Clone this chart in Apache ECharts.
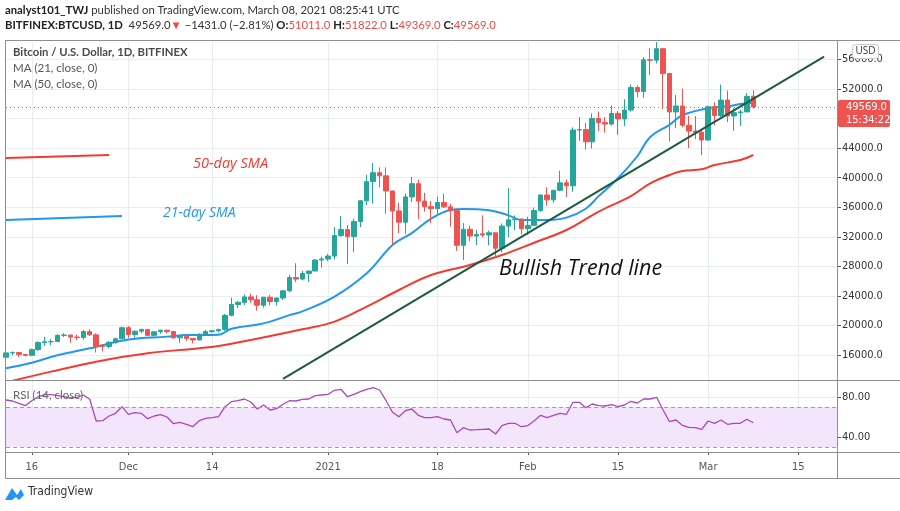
<!DOCTYPE html>
<html>
<head>
<meta charset="utf-8">
<script src="https://cdn.jsdelivr.net/npm/echarts@6.0.0/dist/echarts.min.js"></script>
<style>
html,body{margin:0;padding:0;background:#fff;}
#chart{width:900px;height:511px;}
</style>
</head>
<body>
<div id="chart"></div>
<script>
// ---------------- DATA ----------------
const firstDay = '2020-11-12';   // first candle
const lastAxisDay = '2021-03-21'; // right edge of the time axis

// daily candles [open, high, low, close], 2020-11-12 .. 2021-03-08
const ohlc = [
[15700,16350,15450,16290],[16290,16490,15980,16330],[16330,16340,15720,16080],[16080,16150,15790,15960],
[15960,16880,15880,16730],[16730,17860,16560,17680],[17680,18480,17220,17790],[17790,18150,17340,17820],
[17820,18800,17760,18660],[18660,18970,18440,18700],[18700,18740,17650,18430],[18430,18780,18030,18380],
[18380,19420,18060,19170],[19170,19490,18600,18730],[18730,18920,16340,17160],[17160,17470,16500,17140],
[17140,17890,16900,17720],[17720,18350,17540,18190],[18190,19850,18180,19700],
[19700,19920,18320,18780],[18780,19320,18340,19220],[19220,19570,18930,19440],[19440,19510,18590,18660],
[18660,19170,18510,19150],[19150,19420,18880,19360],[19360,19420,18900,19170],[19170,19280,18220,18330],
[18330,18640,17650,18550],[18550,18580,17920,18250],[18250,18290,17580,18040],[18040,18950,18020,18810],
[18810,19410,18720,19170],[19170,19350,19000,19280],[19280,19570,19050,19440],[19440,21560,19290,21370],
[21370,23770,21230,22840],[22840,23290,22350,23130],[23130,24170,22760,23860],[23860,24300,23060,23480],
[23480,24100,22000,22740],[22740,23850,22400,23820],[23820,24130,22700,23240],[23240,23780,22730,23720],
[23720,24780,23450,24690],[24690,26870,24500,26490],[26490,28420,25850,26280],[26280,27410,26100,27040],
[27040,27380,25880,27370],[27370,28990,27340,28860],[28860,29300,27850,28990],
[28990,29680,28700,29390],[29390,33300,28950,32170],[32170,34800,32000,32980],[32980,33600,28300,32050],
[32050,34470,29900,34060],[34060,36950,33300,36870],[36870,40400,36300,39460],[39460,42000,36500,40670],
[40670,41400,38700,40250],[40250,41400,35100,38200],[38200,38250,30900,35500],[35500,36600,32500,33980],
[33980,37850,32400,37400],[37400,40100,36700,39190],[39190,39750,34400,36830],[36830,37950,35400,36080],
[36080,36850,33850,35800],[35800,37450,34800,36650],[36650,37850,35900,36050],[36050,36450,33400,35550],
[35550,35600,30100,30850],[30850,33850,28850,33020],[33020,33500,31400,32100],[32100,32950,30900,32300],
[32400,34900,31950,32250],[32250,32850,30850,32550],[32550,32550,29250,30450],[30450,33800,29900,33450],
[33450,38600,31950,34300],[34300,34900,32900,34400],[34400,34450,32300,33100],
[33100,34700,32300,33550],[33550,35950,33450,35550],[35550,37700,35400,37650],[37650,38700,36200,37000],
[37000,38300,36600,38300],[38300,40950,38200,39300],[39300,39750,37400,38900],[38900,46800,38100,46450],
[46450,48200,45000,46500],[46500,47400,43800,44850],[44850,48700,43950,48000],[48000,48950,46300,47450],
[47450,48200,46100,47250],[47250,49750,47050,48700],[48700,49000,45800,47950],[47950,50600,47000,49150],
[49150,52600,48950,52200],[52200,52500,50900,51650],[51650,56300,50800,55950],[55950,57500,53900,55900],
[55900,58350,55450,57450],[57450,57550,49300,54100],[54100,54200,44900,48900],[48900,51200,46700,49700],
[49700,52050,46800,47100],[47100,48400,44000,46300],[46300,48350,45200,46150],[46150,46550,43050,45100],
[45100,49750,45000,49600],[49600,50200,47100,48400],[48400,52600,48150,50500],[50500,51800,47500,48350],
[48350,49400,46350,48800],[48800,49200,47000,48900],[48900,51450,48900,51000],[51011,51822,49369,49569]
];

const rsi = [77,76,73.7,71.3,76.3,80.3,82.3,82.3,81.3,80.3,79,79.7,82,77.7,
56,56.3,61,63.7,70.3,62.7,64.3,63.7,58.3,61,62.3,60,53.3,54.7,52.7,50.3,56.3,58.7,59.3,60.3,
70.3,75.3,76.3,78,75,68,72,67,68.3,72.7,76.3,76,77.7,78,81.3,82,82.7,86.7,87.7,80.3,
82.7,85.3,87.7,89.3,87,76.3,64.7,60.3,66.3,68,61.7,59.3,59.3,60.3,58,57,
44.3,49.3,47,47.3,47.7,48,43,51.3,53.7,53.7,50.3,51.3,56.3,61.7,59.3,61.7,63.7,62.7,74.7,74.7,
69.3,73,71.3,71,72.3,70.3,72,75.7,74,78,78,79.7,67,55.3,57,51.7,49.7,49.3,47.7,56,
53.7,57,52.7,53.7,53.7,57.7,54.3];

// moving averages at sample dates
const ma21 = [
['2020-11-12',14210],['2020-11-16',14950],['2020-11-20',15960],['2020-11-25',16910],['2020-12-01',18100],
['2020-12-07',18490],['2020-12-10',18700],['2020-12-15',18750],['2020-12-17',19550],['2020-12-22',20280],
['2020-12-26',21400],['2020-12-28',21900],['2021-01-02',23900],['2021-01-07',27060],['2021-01-11',30890],
['2021-01-14',32500],['2021-01-17',34450],['2021-01-20',35630],['2021-01-22',35760],['2021-01-26',35600],
['2021-01-29',34900],['2021-01-31',34280],['2021-02-04',34280],['2021-02-07',34590],['2021-02-10',35800],
['2021-02-12',37500],['2021-02-15',39920],['2021-02-18',42900],['2021-02-20',45500],['2021-02-23',47150],
['2021-02-25',48450],['2021-03-01',49390],['2021-03-04',49650],['2021-03-06',49970],['2021-03-08',50150]
];
const ma50 = [
['2020-11-12',12300],['2020-11-19',13750],['2020-11-26',15100],['2020-12-04',16240],['2020-12-12',16920],
['2020-12-15',17230],['2020-12-20',18040],['2020-12-28',19490],['2021-01-02',20520],['2021-01-07',22550],
['2021-01-12',24800],['2021-01-17',26830],['2021-01-23',28190],['2021-01-28',29540],['2021-02-02',31200],
['2021-02-07',32920],['2021-02-12',35400],['2021-02-17',37500],['2021-02-20',39240],['2021-02-23',40360],
['2021-02-25',40900],['2021-02-28',41130],['2021-03-02',41720],['2021-03-06',42390],['2021-03-08',43070]
];

// hand-drawn annotations (in chart coordinates)
const trendLine = [['2020-12-25',12770],['2021-03-19',56370]];
const sma50Marker = [['2020-11-12',42660],['2020-11-28',43070]];
const sma21Marker = [['2020-11-12',34280],['2020-11-30',34820]];

const xTickLabels = {'2020-11-16':'16','2020-12-01':'Dec','2020-12-14':'14','2021-01-01':'2021',
  '2021-01-18':'18','2021-02-01':'Feb','2021-02-15':'15','2021-03-01':'Mar','2021-03-15':'15'};
const priceTicks = [16000,20000,24000,28000,32000,36000,40000,44000,48000,52000,56000];
const rsiTicks = [40,80];
const rsiBand = [30,70];

// ---------------- BUILD ----------------
function fmt(d){return d.toISOString().slice(0,10);}
const categories = [];
for (let d = new Date(firstDay+'T00:00:00Z'); fmt(d) <= lastAxisDay; d.setUTCDate(d.getUTCDate()+1)) categories.push(fmt(d));
const candleDates = categories.slice(0, ohlc.length);
const candleData = ohlc.map(r => [r[0], r[3], r[2], r[1]]);
const rsiData = rsi.map((v,i) => [candleDates[i], v]);
const last = ohlc[ohlc.length-1], prev = ohlc[ohlc.length-2];
const chg = last[3]-prev[3], pct = chg/prev[3]*100;
const signed = (v,n) => (v<0?'\u2212':'') + Math.abs(v).toFixed(n);

const UP='#26a69a', DOWN='#ef5350';
const GRIDC='#e8edf2';
const tickFilter = (idx, v) => xTickLabels[v] !== undefined;
const narrow = "'Liberation Sans Narrow','DejaVu Sans Condensed',sans-serif";
const ui = "Lato,'Open Sans',sans-serif";
const hs = 11.3;

const chart = echarts.init(document.getElementById('chart'), null, {renderer:'canvas'});
const option = {
  animation:false,
  backgroundColor:'#ffffff',
  grid:[
    {left:6, top:42, width:831, height:338},
    {left:6, top:381, width:831, height:71}
  ],
  xAxis:[
    {type:'category', gridIndex:0, data:categories, boundaryGap:false,
     axisLine:{show:false}, axisTick:{show:false}, axisLabel:{show:false},
     splitLine:{show:true, interval:tickFilter, lineStyle:{color:GRIDC}}},
    {type:'category', gridIndex:1, data:categories, boundaryGap:false,
     axisLine:{show:false}, axisTick:{show:true, interval:tickFilter, length:3, lineStyle:{color:'#555'}},
     axisLabel:{interval:tickFilter, formatter:v=>xTickLabels[v]||'', color:'#555', fontSize:11, fontFamily:narrow, margin:10},
     splitLine:{show:true, interval:tickFilter, lineStyle:{color:GRIDC}}}
  ],
  yAxis:[
    {type:'value', gridIndex:0, position:'right', min:12620, max:58360, scale:true,
     axisLine:{show:false},
     axisTick:{show:true, customValues:priceTicks, length:4, lineStyle:{color:'#555'}},
     axisLabel:{customValues:priceTicks, formatter:v=>v.toFixed(1), color:'#333', fontSize:11, fontFamily:narrow, margin:5},
     splitLine:{show:true, lineStyle:{color:GRIDC}}},
    {type:'value', gridIndex:1, position:'right', min:25, max:96,
     axisLine:{show:false},
     axisTick:{show:true, customValues:rsiTicks, length:4, lineStyle:{color:'#555'}},
     axisLabel:{customValues:rsiTicks, formatter:v=>v.toFixed(2), color:'#333', fontSize:11, fontFamily:narrow, margin:5},
     splitLine:{show:true, lineStyle:{color:GRIDC}}}
  ],
  series:[
    {type:'line', xAxisIndex:0, yAxisIndex:0, data:ma50, smooth:0.4, showSymbol:false, z:3,
     lineStyle:{color:'#f23b2f', width:2}},
    {type:'line', xAxisIndex:0, yAxisIndex:0, data:ma21, smooth:0.4, showSymbol:false, z:3,
     lineStyle:{color:'#2196f3', width:2}},
    {type:'candlestick', xAxisIndex:0, yAxisIndex:0, data:candleData, barWidth:5, z:4,
     itemStyle:{color:UP, color0:DOWN, borderColor:UP, borderColor0:DOWN, borderWidth:1},
     markLine:{silent:true, symbol:['none','none'], label:{show:false},
       lineStyle:{color:DOWN, type:[1,3], width:1}, data:[{yAxis:last[3]}]}},
    {type:'line', xAxisIndex:0, yAxisIndex:0, data:trendLine, showSymbol:false, z:5,
     lineStyle:{color:'#1d5a40', width:2}},
    {type:'line', xAxisIndex:0, yAxisIndex:0, data:sma50Marker, showSymbol:false, z:5,
     lineStyle:{color:'#f23b2f', width:2}},
    {type:'line', xAxisIndex:0, yAxisIndex:0, data:sma21Marker, showSymbol:false, z:5,
     lineStyle:{color:'#2196f3', width:2}},
    {type:'line', xAxisIndex:1, yAxisIndex:1, data:rsiData, showSymbol:false, z:4,
     lineStyle:{color:'#ab47bc', width:1.3},
     markArea:{silent:true, itemStyle:{color:'#f3e6fc'}, data:[[{yAxis:rsiBand[0]},{yAxis:rsiBand[1]}]]},
     markLine:{silent:true, symbol:['none','none'], label:{show:false},
       lineStyle:{color:'#a0a0a0', type:[4,3], width:1}, data:[{yAxis:rsiBand[0]},{yAxis:rsiBand[1]}]}}
  ]
};
chart.setOption(option);

// ---------- decorations / texts ----------
const py = chart.convertToPixel({yAxisIndex:0}, last[3]);
const L = '#8f8f8f';
const line = (x1,y1,x2,y2) => ({type:'line', silent:true, z:50, shape:{x1,y1,x2,y2}, style:{stroke:L, lineWidth:1}});
const rb = {fontWeight:'bold', fontFamily:ui, fontSize:hs, fill:'#222'};
const rn = {fontFamily:ui, fontSize:hs, fill:'#333'};
const rr = {fontFamily:ui, fontSize:hs, fill:'#f04a44'};
chart.setOption({graphic:[
  line(5,40.5,900,40.5), line(5,380.5,900,380.5), line(5,452.5,900,452.5), line(5,478.5,900,478.5),
  line(5.5,40,5.5,478), line(837.5,40,837.5,478),
  {type:'text', left:5, top:5, z:60, style:{fontFamily:ui, fontSize:hs, fill:'#222',
    text:'{b|analyst101_TWJ} {n|published on TradingView.com, March 08, 2021 08:25:41 UTC}',
    rich:{b:rb, n:rn}}},
  {type:'text', left:5, top:20, z:60, style:{fontFamily:ui, fontSize:hs, fill:'#222',
    text:'{b|BITFINEX:BTCUSD, 1D}  {n|'+last[3].toFixed(1)+'}{r|\u25BC} {n|'+signed(chg,1)+' ('+signed(pct,2)+'%)} '+
         '{b|O:}{r|'+last[0].toFixed(1)+'} {b|H:}{r|'+last[1].toFixed(1)+'} {b|L:}{r|'+last[2].toFixed(1)+'} {b|C:}{r|'+last[3].toFixed(1)+'}',
    rich:{b:rb, n:rn, r:rr}}},
  {type:'text', left:13, top:47, z:60, style:{text:'Bitcoin / U.S. Dollar, 1D, BITFINEX', fontFamily:ui, fontWeight:'bold', fontSize:11.3, fill:'#4a4a4a'}},
  {type:'text', left:13, top:62, z:60, style:{text:'MA (21, close, 0)', fontFamily:ui, fontSize:11.5, fill:'#555'}},
  {type:'text', left:13, top:78, z:60, style:{text:'MA (50, close, 0)', fontFamily:ui, fontSize:11.5, fill:'#555'}},
  {type:'text', left:13, top:389, z:60, style:{text:'RSI (14, close)', fontFamily:ui, fontSize:11.5, fill:'#666'}},
  {type:'text', left:193, top:156, z:60, style:{text:'50-day SMA', fontFamily:"'Open Sans',sans-serif", fontStyle:'italic', fontSize:14.5, fill:'#f23b2f'}},
  {type:'text', left:163, top:206, z:60, style:{text:'21-day SMA', fontFamily:"'Open Sans',sans-serif", fontStyle:'italic', fontSize:14, fill:'#2196f3'}},
  {type:'text', left:499, top:258, z:60, style:{text:'Bullish Trend line', fontFamily:"'Open Sans',sans-serif", fontStyle:'italic', fontSize:21.5, fill:'#111'}},
  {type:'rect', z:70, shape:{x:852.5, y:44.5, width:26, height:14, r:3}, style:{fill:'#fff', stroke:'#c8c8c8'}},
  {type:'text', z:71, x:865.5, y:51.5, style:{text:'USD', align:'center', verticalAlign:'middle', fontFamily:"'Open Sans',sans-serif", fontSize:10, fill:'#333'}},
  {type:'rect', z:70, shape:{x:838, y:py-7, width:52, height:27, r:2}, style:{fill:'#ef5350'}},
  {type:'text', z:71, x:846, y:py+0.5, style:{text:last[3].toFixed(1), verticalAlign:'middle', fontFamily:narrow, fontSize:11, fill:'#fff'}},
  {type:'text', z:71, x:846, y:py+13, style:{text:'15:34:22', verticalAlign:'middle', fontFamily:narrow, fontSize:11, fill:'#fff'}},
  {type:'polygon', z:60, shape:{points:[[5,500],[12,488],[17,495],[21,489],[24,495],[19,500],[16,497],[12,500]]}, style:{fill:'#2196f3'}},
  {type:'text', left:28, top:486, z:60, style:{text:'TradingView', fontFamily:narrow, fontSize:12, fill:'#333'}}
]});
</script>
</body>
</html>
